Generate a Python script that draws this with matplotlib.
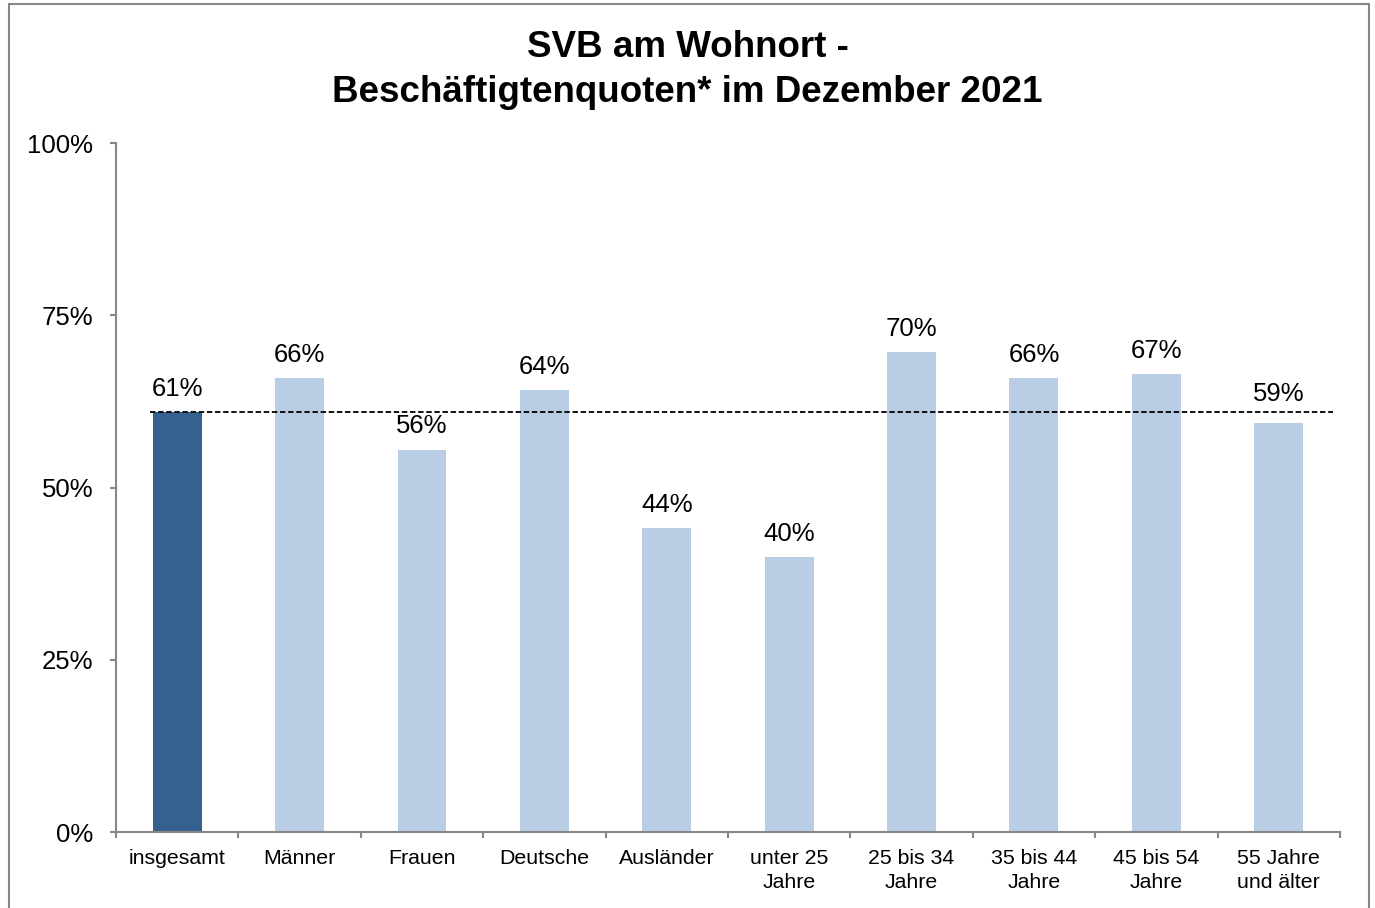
import matplotlib.pyplot as plt
import matplotlib.patches as mpatches
from matplotlib.ticker import FuncFormatter, MultipleLocator, FixedLocator

# ── Data ──────────────────────────────────────────────────────────────────────

CATEGORIES = ["insgesamt", "Männer", "Frauen", "Deutsche", "Ausländer",
              "unter 25\nJahre", "25 bis 34\nJahre", "35 bis 44\nJahre",
              "45 bis 54\nJahre", "55 Jahre\nund älter"]
VALUES     = [61.0, 65.9, 55.5, 64.2, 44.1, 39.9, 69.6, 65.9, 66.5, 59.4]
LABELS     = ["61%", "66%", "56%", "64%", "44%", "40%", "70%", "66%", "67%", "59%"]
Y_TICKS    = [0, 25, 50, 75, 100]

TITLE = "SVB am Wohnort -\nBeschäftigtenquoten* im Dezember 2021"

DARK  = "#35608F"
LIGHT = "#B9CDE5"
GREY  = "#878787"

plt.rcParams["font.family"] = ["Liberation Sans", "DejaVu Sans"]

# ── Plot ──────────────────────────────────────────────────────────────────────

fig = plt.figure(figsize=(13.75, 9.08), dpi=100)
ax = fig.add_axes([0.0844, 0.0837, 0.8901, 0.7588])

# outer frame of the chart area
fig.patches.append(mpatches.Rectangle((0.0065, -0.01), 0.9891, 1.0056,
                                      transform=fig.transFigure, fill=False,
                                      edgecolor=GREY, linewidth=1.5))

x = list(range(len(CATEGORIES)))
colors = [DARK] + [LIGHT] * (len(CATEGORIES) - 1)
bars = ax.bar(x, VALUES, width=0.4, color=colors, zorder=2)

for i, (bar, lab) in enumerate(zip(bars, LABELS)):
    # the last label is lifted clear of the dashed line, as in the original
    dy = 12 if i == len(LABELS) - 1 else 8
    ax.annotate(lab, (bar.get_x() + bar.get_width() / 2, bar.get_height()),
                xytext=(0, dy), textcoords="offset points",
                ha="center", va="bottom", fontsize=18.5)

# average line (insgesamt)
ax.hlines(VALUES[0], -0.22, 9.44, colors="black", linestyles=(0, (3, 1.5)),
          linewidth=1.3, zorder=3)

ax.set_xlim(-0.5, len(CATEGORIES) - 0.5)
ax.set_ylim(0, 100)

ax.yaxis.set_major_locator(FixedLocator(Y_TICKS))
ax.yaxis.set_major_formatter(FuncFormatter(lambda v, p: f"{v:.0f}%"))
ax.tick_params(axis="y", length=4.5, width=1.5, color=GREY, pad=12,
               labelsize=18.5)

ax.set_xticks(x)
ax.set_xticklabels(CATEGORIES, fontsize=15.3, linespacing=1.35)
ax.xaxis.set_minor_locator(MultipleLocator(1, offset=0.5))
ax.tick_params(axis="x", which="major", length=0, pad=12)
ax.tick_params(axis="x", which="minor", length=4.5, width=1.5, color=GREY)

for side in ["top", "right"]:
    ax.spines[side].set_visible(False)
for side in ["left", "bottom"]:
    ax.spines[side].set_color(GREY)
    ax.spines[side].set_linewidth(1.5)

fig.text(0.5, 0.967, TITLE, ha="center", va="top", fontsize=26.5,
         fontweight="bold", linespacing=1.38)

fig.savefig("out.png", dpi=100)
